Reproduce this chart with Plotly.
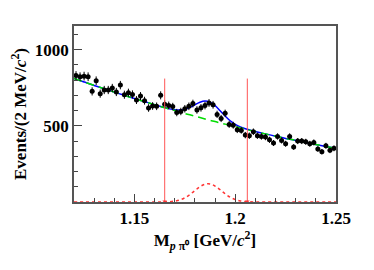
import plotly.graph_objects as go

# ---- data ----
bin_centers = [round(1.121 + 0.002 * i, 3) for i in range(65)]
counts = [830, 822, 826, 822, 726, 796, 711, 735, 735, 748,
          722, 767, 704, 717, 706, 669, 695, 665, 617, 630,
          628, 700, 642, 634, 626, 587, 594, 612, 628, 646,
          604, 618, 633, 650, 638, 575, 548, 582, 509, 504,
          474, 470, 439, 435, 461, 435, 430, 426, 408, 387,
          430, 404, 382, 430, 361, 400, 400, 395, 382, 391,
          348, 330, 369, 339, 352]
errors = [c ** 0.5 for c in counts]

curve_x = [1.120, 1.125, 1.130, 1.135, 1.140, 1.145, 1.150, 1.155, 1.160, 1.1625,
           1.165, 1.1675, 1.170, 1.1725, 1.175, 1.1775, 1.180, 1.1825, 1.185, 1.1875,
           1.190, 1.1925, 1.195, 1.1975, 1.200, 1.2025, 1.205, 1.2075, 1.210, 1.2125,
           1.215, 1.220, 1.225, 1.230, 1.235, 1.240, 1.245, 1.250]
background = [811, 788, 765, 743, 721, 700, 679, 659, 639, 629,
              619, 609, 600, 590, 581, 572, 563, 554, 545, 536,
              528, 519, 511, 502, 494, 486, 478, 470, 462, 454,
              447, 432, 417, 404, 390, 377, 364, 352]
signal = [0, 0, 0, 0, 0, 0, 0, 0, 0, 0.2,
          0.7, 2.2, 5.8, 13.5, 27.5, 48.7, 74.9, 100.4, 117, 118.7,
          104.7, 80.4, 53.7, 31.2, 15.8, 7.0, 2.7, 0.9, 0.3, 0.1,
          0, 0, 0, 0, 0, 0, 0, 0]
total = [b + s for b, s in zip(background, signal)]

cut_lines = [1.165, 1.206]
cut_height = 810

x_ticks = [1.15, 1.2, 1.25]
x_ticktext = ["1.15", "1.2", "1.25"]
y_ticks = [500, 1000]
y_ticktext = ["500", "1000"]

fig = go.Figure()

fig.add_trace(go.Scatter(
    x=curve_x, y=total, mode="lines", line=dict(color="#0000ff", width=1.5, shape="spline"),
    showlegend=False, hoverinfo="skip"))
fig.add_trace(go.Scatter(
    x=curve_x, y=background, mode="lines",
    line=dict(color="#00dd00", width=1.5, dash="8px,5px", shape="spline"),
    showlegend=False, hoverinfo="skip"))
fig.add_trace(go.Scatter(
    x=curve_x, y=signal, mode="lines",
    line=dict(color="#ff3333", width=1.5, dash="dot", shape="spline"),
    showlegend=False, hoverinfo="skip"))

fig.add_trace(go.Scatter(
    x=bin_centers, y=counts, mode="markers",
    marker=dict(color="black", size=5),
    error_y=dict(type="data", array=errors, color="black", thickness=1, width=0),
    error_x=dict(type="constant", value=0.001, color="black", thickness=1, width=0),
    showlegend=False))

for xc in cut_lines:
    fig.add_trace(go.Scatter(
        x=[xc, xc], y=[0, cut_height], mode="lines",
        line=dict(color="#ff5555", width=1), showlegend=False, hoverinfo="skip"))
fig.add_trace(go.Scatter(
    x=cut_lines, y=[4, 4], mode="markers",
    marker=dict(color="#ff3333", size=4, symbol="triangle-down"),
    showlegend=False, hoverinfo="skip"))

font_serif = "Liberation Serif, Times New Roman, serif"

fig.update_layout(
    width=374, height=270,
    margin=dict(l=74, r=38, t=26, b=68),
    paper_bgcolor="white", plot_bgcolor="white",
    font=dict(family=font_serif, size=17, color="black"),
    xaxis=dict(
        range=[1.12, 1.25], tickvals=x_ticks, ticktext=["<b>%s</b>" % t for t in x_ticktext],
        ticks="inside", ticklen=8, tickcolor="#444", showgrid=False, zeroline=False,
        showline=True, linecolor="#555", linewidth=1.5, mirror=True,
        minor=dict(dtick=0.01, ticks="inside", ticklen=4, tickcolor="#444", showgrid=False),
        title=dict(text="<b>M<sub><i>p</i> π⁰</sub> [GeV/<i>c</i><sup>2</sup>]</b>",
                   font=dict(size=17), standoff=0),
        tickfont=dict(size=17),
    ),
    yaxis=dict(
        range=[0, 1155], tickvals=y_ticks, ticktext=["<b>%s</b>" % t for t in y_ticktext],
        ticks="inside", ticklen=8, tickcolor="#444", showgrid=False, zeroline=False,
        showline=True, linecolor="#555", linewidth=1.5, mirror=True,
        minor=dict(dtick=100, ticks="inside", ticklen=4, tickcolor="#444", showgrid=False),
        title=dict(text="<b>Events/(2 MeV/<i>c</i><sup>2</sup>)</b>",
                   font=dict(size=17), standoff=4),
        tickfont=dict(size=17),
    ),
)

fig.write_html("out.html", config={"displayModeBar": False},
               post_script="document.body.style.margin='0px';")
